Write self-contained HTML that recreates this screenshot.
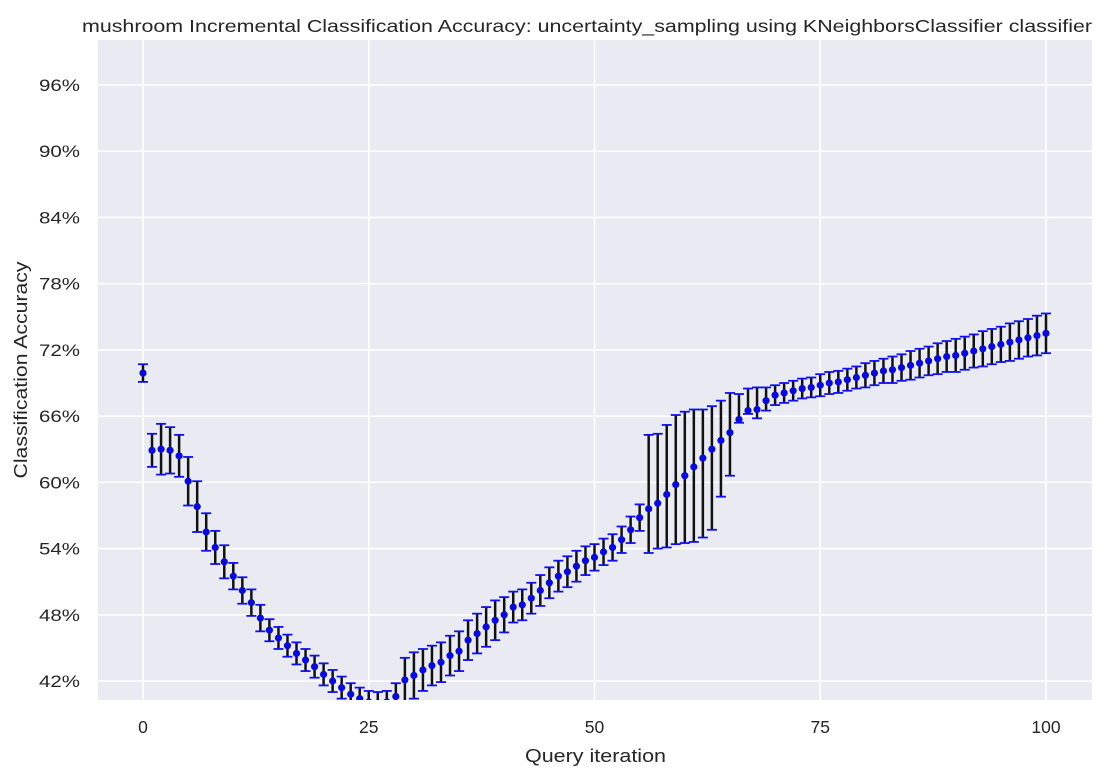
<!DOCTYPE html>
<html><head><meta charset="utf-8"><style>
body{margin:0;background:#fff;font-family:"Liberation Sans","DejaVu Sans",sans-serif}
svg text{fill:#262626;font-family:"Liberation Sans","DejaVu Sans",sans-serif}
</style></head><body>
<svg id="chart" width="1119" height="779">
<defs><clipPath id="pc"><rect x="98" y="40" width="994" height="660"/></clipPath></defs>
<rect x="98" y="40" width="994" height="660" fill="#eaeaf2"/>
<g id="grid"></g><g id="marks" clip-path="url(#pc)"></g><g id="ticks"></g>
<text x="82" y="32" font-size="17.5" textLength="1010" lengthAdjust="spacingAndGlyphs">mushroom Incremental Classification Accuracy: uncertainty_sampling using KNeighborsClassifier classifier</text>
<text x="525" y="762" font-size="18.5" textLength="141" lengthAdjust="spacingAndGlyphs">Query iteration</text>
<text transform="translate(27,370) rotate(-90)" text-anchor="middle" font-size="18.5" textLength="217" lengthAdjust="spacingAndGlyphs">Classification Accuracy</text>
</svg>
<script>
const means=[69.9,62.9,63.0,62.9,62.4,60.1,57.8,55.5,54.1,52.8,51.5,50.2,49.1,47.7,46.6,45.9,45.2,44.5,43.9,43.3,42.6,42.0,41.4,40.8,40.4,40.1,40.0,40.1,40.6,42.1,42.5,43.0,43.4,43.7,44.3,44.7,45.7,46.3,46.9,47.5,48.0,48.7,48.9,49.5,50.2,50.9,51.5,51.9,52.4,52.9,53.2,53.7,54.1,54.8,55.7,56.8,57.6,58.1,58.9,59.8,60.6,61.4,62.2,63.0,63.8,64.5,65.7,66.5,66.6,67.4,67.9,68.1,68.3,68.5,68.6,68.8,69.0,69.1,69.3,69.5,69.7,69.9,70.1,70.2,70.4,70.6,70.8,71.0,71.2,71.4,71.5,71.7,71.9,72.1,72.3,72.5,72.7,72.9,73.1,73.3,73.5];
const errLo=[0.8,1.5,2.3,2.1,1.9,2.2,2.3,1.7,1.5,1.5,1.2,1.2,1.2,1.2,1.0,1.0,1.0,1.0,1.0,1.0,1.0,1.0,1.0,1.0,1.0,1.0,1.0,1.0,1.2,2.0,2.1,1.9,1.8,1.8,1.8,1.8,1.8,1.8,1.8,1.8,1.6,1.4,1.4,1.4,1.4,1.4,1.4,1.4,1.4,1.3,1.2,1.2,1.2,1.2,1.2,1.2,4.0,4.1,4.8,5.4,6.1,6.8,7.2,7.3,5.1,3.9,0.3,0.3,0.8,0.9,0.9,0.9,0.9,0.9,0.9,1.0,1.0,1.0,1.0,1.0,1.1,1.1,1.1,1.2,1.2,1.3,1.3,1.3,1.4,1.4,1.5,1.5,1.5,1.6,1.6,1.6,1.7,1.7,1.7,1.8,1.8];
const errHi=[0.8,1.5,2.3,2.1,1.9,2.2,2.3,1.7,1.5,1.5,1.2,1.2,1.2,1.2,1.0,1.0,1.0,1.0,1.0,1.0,1.0,1.0,1.0,1.0,1.0,1.0,1.0,1.0,1.2,2.0,2.1,1.9,1.8,1.8,1.8,1.8,1.8,1.8,1.8,1.8,1.6,1.4,1.4,1.4,1.4,1.4,1.4,1.4,1.4,1.3,1.2,1.2,1.2,1.2,1.2,1.2,6.7,6.3,6.3,6.3,5.8,5.2,4.4,3.9,3.6,3.6,2.3,2.0,2.0,1.2,0.9,0.9,0.9,0.9,0.9,1.0,1.0,1.0,1.0,1.0,1.1,1.1,1.1,1.2,1.2,1.3,1.3,1.3,1.4,1.4,1.5,1.5,1.5,1.6,1.6,1.6,1.7,1.7,1.7,1.8,1.8];
const yTicks=[42,48,54,60,66,72,78,84,90,96];
const xTicks=[0,25,50,75,100];
const X=v=>143+v*9.03, Y=p=>681-(p-42)*66.22/6;
const NS='http://www.w3.org/2000/svg';
function mk(t,a,parent){const e=document.createElementNS(NS,t);for(const k in a)e.setAttribute(k,a[k]);parent.appendChild(e);return e;}
const grid=document.getElementById('grid'),marks=document.getElementById('marks'),ticks=document.getElementById('ticks');
yTicks.forEach(v=>{
 const l=mk('line',{x1:98,x2:1092,y1:Y(v),y2:Y(v),stroke:'#fff','stroke-width':1.6},grid);
 
 
 const t=mk('text',{x:39,y:Y(v)+6,'font-size':17,textLength:41,lengthAdjust:'spacingAndGlyphs'},ticks);t.textContent=v+'%';
 
 
});
xTicks.forEach(v=>{
 const l=mk('line',{x1:X(v),x2:X(v),y1:40,y2:700,stroke:'#fff','stroke-width':1.6},grid);
 
 
 const t=mk('text',{x:X(v),y:733,'text-anchor':'middle','font-size':17.5},ticks);t.textContent=v;
 
 
});
means.forEach((m,i)=>{
 const x=X(i),y1=Y(m+errHi[i]),y2=Y(m-errLo[i]);
 const g=mk('g',{},marks);
 
 
 mk('line',{x1:x,x2:x,y1:y1,y2:y2,stroke:'#111','stroke-width':2.5},g);
 mk('line',{x1:x-5,x2:x+5,y1:y1,y2:y1,stroke:'#1010ee','stroke-width':1.8},g);
 mk('line',{x1:x-5,x2:x+5,y1:y2,y2:y2,stroke:'#1010ee','stroke-width':1.8},g);
 mk('circle',{cx:x,cy:Y(m),r:3.6,fill:'#0a0ad8'},g);
});
</script>
</body></html>
